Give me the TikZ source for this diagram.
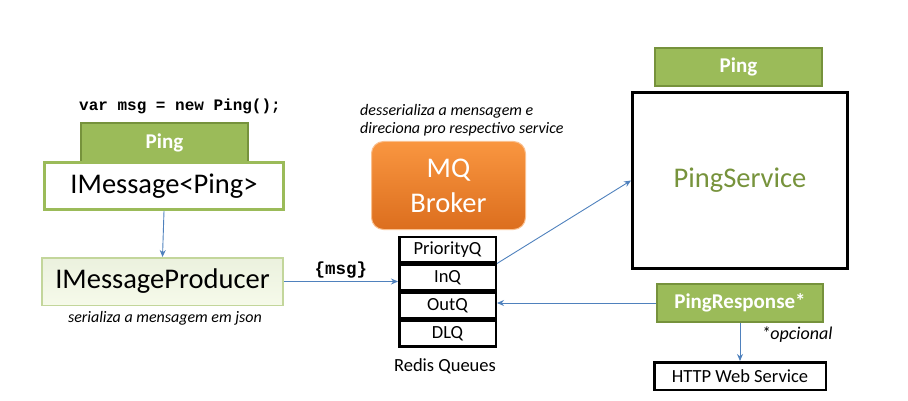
\documentclass[tikz,border=0pt]{standalone}
\usepackage{fontspec}
\setmainfont{Carlito}
\setmonofont{Liberation Mono}
\definecolor{pinggreen}{RGB}{155, 187, 89}
\definecolor{pingedge}{RGB}{118, 146, 60}
\definecolor{prodtop}{RGB}{235, 241, 222}
\definecolor{prodbot}{RGB}{246, 250, 234}
\definecolor{prodedge}{RGB}{195, 214, 155}
\definecolor{brokertop}{RGB}{249, 150, 64}
\definecolor{brokerbot}{RGB}{220, 110, 30}
\definecolor{brokeredge}{RGB}{250, 192, 143}
\definecolor{svcgreen}{RGB}{119, 147, 60}
\definecolor{flowblue}{RGB}{79, 129, 189}
\usetikzlibrary{arrows.meta, positioning}

\begin{document}
\begin{tikzpicture}[x=1pt, y=-1pt,
  flow/.style={-{Stealth[length=7pt, width=6pt]}, line width=0.9pt, flowblue},
  greenbox/.style={draw=pingedge, fill=pinggreen, line width=2pt, inner sep=0pt, text=white, font=\fontsize{21}{24}\selectfont\bfseries},
  queuebox/.style={draw=black, line width=2.5pt, minimum width=96.5pt, minimum height=25.5pt, inner sep=0pt, font=\fontsize{18.5}{22}\selectfont},
  note/.style={font=\fontsize{16}{18}\selectfont\itshape, inner sep=0pt}
]
  \useasboundingbox (0,0) rectangle (908,401);

  % Producer side
  \node[font=\fontsize{16}{18}\selectfont\ttfamily\bfseries, inner sep=0pt] (code) at (180, 106) {var msg = new Ping();};
  \node[greenbox, minimum width=167pt, minimum height=39pt] (pingin) at (164.5, 142.5) {Ping};
  \node[draw=pinggreen, fill=white, line width=3pt, minimum width=239pt, minimum height=47pt, inner sep=0pt, font=\fontsize{28.5}{32}\selectfont] (imsg) at (164, 186) {IMessage<Ping>};
  \node[draw=prodedge, top color=prodtop, bottom color=prodbot, line width=1.5pt, minimum width=241pt, minimum height=47.5pt, inner sep=0pt, font=\fontsize{28.5}{32}\selectfont] (prod) at (162.5, 281.5) {IMessageProducer};
  \node[note] (sernote) at (165, 318) {serializa a mensagem em json};

  % Broker
  \node[note, anchor=west, align=left] (desnote) at (360, 120) {desserializa a mensagem e\\direciona pro respectivo service};
  \node[draw=brokeredge, top color=brokertop, bottom color=brokerbot, line width=1pt, rounded corners=12pt, minimum width=154pt, minimum height=88pt, inner sep=0pt, text=white, align=center, font=\fontsize{28.5}{35}\selectfont] (broker) at (448.5, 185.5) {MQ\\Broker};

  % Redis queues
  \node[queuebox] (prio) at (447.5, 249.5) {PriorityQ};
  \node[queuebox, below=0pt of prio] (inq) {InQ};
  \node[queuebox, below=0pt of inq] (outq) {OutQ};
  \node[queuebox, below=0pt of outq] (dlq) {DLQ};
  \node[font=\fontsize{18.5}{22}\selectfont, inner sep=0pt] (redis) at (445, 366) {Redis Queues};

  % Service side
  \node[greenbox, minimum width=167pt, minimum height=38pt] (pingout) at (738.5, 67) {Ping};
  \node[draw=black, line width=3pt, minimum width=215pt, minimum height=176pt, inner sep=0pt, text=svcgreen, font=\fontsize{28.5}{32}\selectfont] (svc) at (740, 180.5) {PingService};
  \node[greenbox, minimum width=166pt, minimum height=38pt] (resp) at (740, 303) {PingResponse*};
  \node[font=\fontsize{18}{22}\selectfont\itshape, inner sep=0pt] (optnote) at (797, 335) {*opcional};
  \node[draw=black, line width=2.5pt, minimum width=171.5pt, minimum height=27.5pt, inner sep=0pt, font=\fontsize{18.5}{22}\selectfont] (http) at (740, 376) {HTTP Web Service};

  % Connectors
  \draw[flow] (imsg.south) -- (prod.north);
  \draw[flow] (prod.east) -- node[above=3pt, font=\fontsize{17.5}{20}\selectfont\ttfamily\bfseries, text=black, inner sep=0pt] (msglabel) {\{msg\}} (prod.east -| inq.west);
  \draw[flow] (prio.south east) -- (svc.west);
  \draw[flow] (resp.west) -- (resp.west -| outq.east);
  \draw[flow] (resp.south) -- (http.north);
\end{tikzpicture}
\end{document}
